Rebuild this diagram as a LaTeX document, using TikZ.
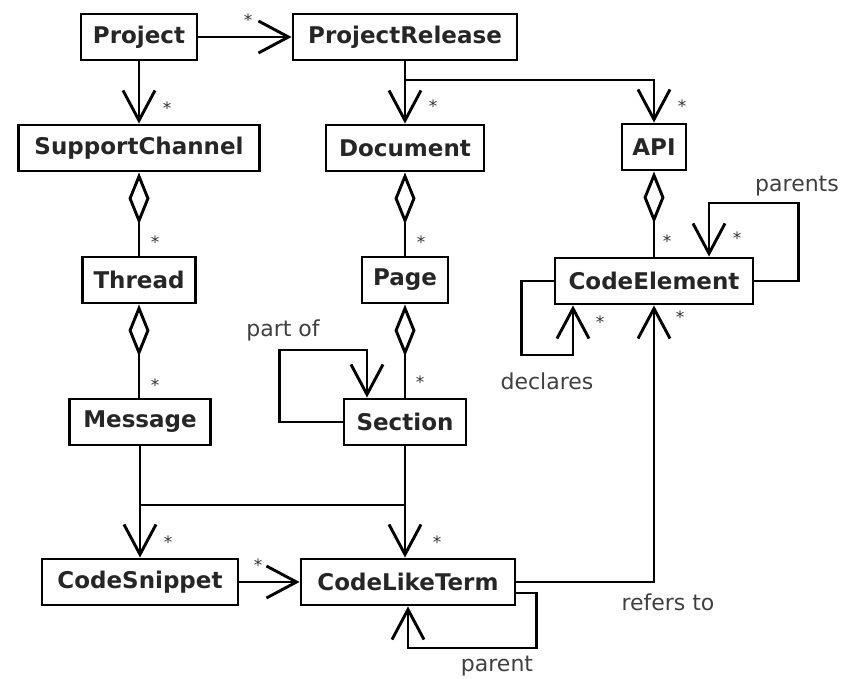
\documentclass[tikz,border=0pt]{standalone}
\usepackage{fontspec}
\setmainfont{DejaVu Sans}
\usetikzlibrary{arrows.meta,positioning}

\tikzset{
  cls/.style={draw, line width=2.9pt, text=black!85, font=\bfseries\fontsize{23}{26}\selectfont,
    minimum height=46pt, inner xsep=4pt},
  assoc/.style={line width=2.9pt, -{Straight Barb[length=30pt,width=32pt,line width=2.9pt]}},
  aggr/.style={line width=2.9pt, {Diamond[open,length=52pt,width=21pt,line width=2.9pt]}-},
  mult/.style={font=\fontsize{17}{17}\selectfont, text=black!80},
  lbl/.style={font=\fontsize{22}{24}\selectfont, text=black!75},
}

\begin{document}
\begin{tikzpicture}[x=1pt,y=-1pt]
    \useasboundingbox (0,0) rectangle (846,679);

    % Classes
    \node[cls, minimum width=116pt] (project) at (139,37) {Project};
    \node[cls, minimum width=224pt] (release) at (405,37) {ProjectRelease};
    \node[cls, minimum width=241pt] (channel) at (139,148) {SupportChannel};
    \node[cls, minimum width=158pt] (document) at (405,148) {Document};
    \node[cls, minimum width=64pt] (api) at (654,147) {API};
    \node[cls, minimum width=113pt] (thread) at (139,280) {Thread};
    \node[cls, minimum width=86pt] (page) at (405,280) {Page};
    \node[cls, minimum width=198pt] (element) at (654,281) {CodeElement};
    \node[cls, minimum width=141pt] (message) at (140,422) {Message};
    \node[cls, minimum width=122pt] (section) at (405,422) {Section};
    \node[cls, minimum width=196pt] (snippet) at (140,582) {CodeSnippet};
    \node[cls, minimum width=214pt] (term) at (408,582) {CodeLikeTerm};

    % Associations
    \draw[assoc] (project) -- (release);
    \draw[assoc] (project) -- (channel);
    \coordinate (split) at (405,80);
    \draw[assoc] (split |- release.south) -- (document.north);
    \draw[assoc] (split) -| (api.north);
    \coordinate (join) at (140,505);
    \draw[assoc] (message) -- (snippet);
    \draw[assoc] (section.south) -- (section.south |- term.north);
    \draw[line width=2.9pt] (join) -- (join -| section.south);
    \draw[assoc] (snippet) -- (term);
    \draw[assoc] (term.east) -| (element.south);

    % Aggregations
    \draw[aggr] (channel) -- (thread);
    \draw[aggr] (thread.south) -- (thread.south |- message.north);
    \draw[aggr] (document) -- (page);
    \draw[aggr] (page) -- (section);
    \draw[aggr] (api) -- (element);

    % Self loops
    \draw[assoc] (element.east) -- ++(44,0) -- ++(0,-78) -| ([xshift=55pt]element.north);
    \draw[assoc] (element.west) -- ++(-32,0) -- ++(0,74) -| ([xshift=-81pt]element.south);
    \draw[assoc] (section.west) -- ++(-63,0) -- ++(0,-72) -| ([xshift=-38pt]section.north);
    \draw[assoc] ([yshift=-11pt]term.east) -- ++(20,0) -- ++(0,55) -| (term.south);

    % Multiplicities
    \node[mult] (m-release) at (248,20) {*};
    \node[mult] (m-channel) at (167,108) {*};
    \node[mult] (m-document) at (433,106) {*};
    \node[mult] (m-api) at (682,106) {*};
    \node[mult] (m-thread) at (155,242) {*};
    \node[mult] (m-page) at (421,242) {*};
    \node[mult] (m-element) at (667,241) {*};
    \node[mult] (m-parents) at (737,238) {*};
    \node[mult] (m-message) at (155,385) {*};
    \node[mult] (m-section) at (420,382) {*};
    \node[mult] (m-declares) at (600,322) {*};
    \node[mult] (m-refers) at (680,317) {*};
    \node[mult] (m-snippet) at (168,542) {*};
    \node[mult] (m-term) at (437,542) {*};
    \node[mult] (m-code) at (258,565) {*};

    % Role labels
    \node[lbl] (l-parents) at (797,186) {parents};
    \node[lbl] (l-declares) at (547,381) {declares};
    \node[lbl] (l-partof) at (283,330) {part of};
    \node[lbl] (l-refers) at (668,602) {refers to};
    \node[lbl] (l-parent) at (497,666) {parent};
\end{tikzpicture}
\end{document}
